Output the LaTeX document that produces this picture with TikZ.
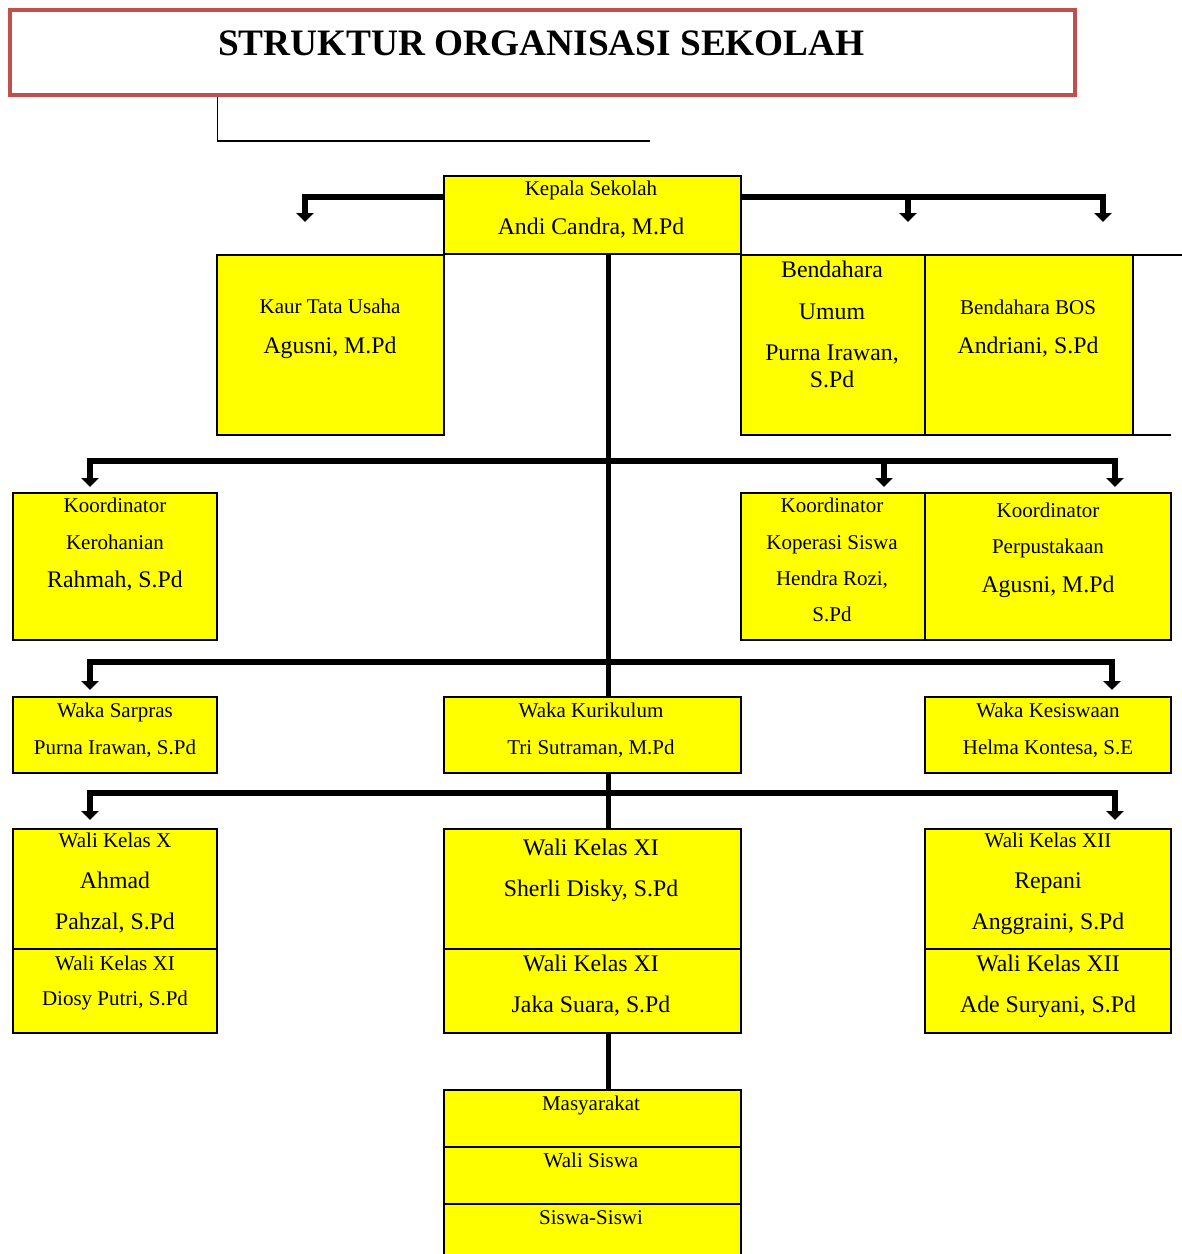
\documentclass[tikz,border=0pt]{standalone}
\usepackage{fontspec}
\setmainfont{Liberation Serif}
\usetikzlibrary{arrows.meta,calc}
\definecolor{titlered}{RGB}{192,80,77}
\definecolor{boxyellow}{RGB}{255,255,0}
\tikzset{
  box/.style={draw=black, line width=2pt, fill=boxyellow, inner sep=0pt, outer sep=0pt},
  sm/.style={font=\fontsize{21}{25}\selectfont, anchor=base, inner sep=0pt},
  lg/.style={font=\fontsize{23.8}{28}\selectfont, anchor=base, inner sep=0pt},
  trunk/.style={line width=5pt},
  bar/.style={line width=6pt, line join=miter, -{Triangle[width=17pt,length=9pt]}},
  divline/.style={line width=1.2pt},
}
\begin{document}
\begin{tikzpicture}[x=1pt,y=-1pt]
\useasboundingbox (0,0) rectangle (1182,1254);

% title
\node[draw=titlered, line width=4pt, fill=white, minimum width=1065pt, minimum height=85pt, inner sep=0pt] (title) at (542.5,52.5) {};
\node[anchor=base, inner sep=0pt, font=\fontsize{37.3}{40}\selectfont\bfseries] (titleT) at (541.5,55.5) {STRUKTUR ORGANISASI SEKOLAH};
\coordinate (tlx) at (217,141);
\coordinate (tle) at (650,141);
\draw[line width=1pt] (title.south -| tlx) -- (tlx);
\draw[line width=2pt] (tlx) -- (tle);

% boxes
\node[box, minimum width=297pt, minimum height=78pt] (kep) at (592.5,215) {};
\node[box, minimum width=227pt, minimum height=180pt] (kaur) at (330.5,345) {};
\node[box, minimum width=184pt, minimum height=180pt] (bum) at (833,345) {};
\node[box, minimum width=208pt, minimum height=180pt] (bos) at (1029,345) {};
\node[box, minimum width=204pt, minimum height=147pt] (kero) at (115,566.5) {};
\node[box, minimum width=184pt, minimum height=147pt] (kop) at (833,566.5) {};
\node[box, minimum width=246pt, minimum height=147pt] (perp) at (1048,566.5) {};
\node[box, minimum width=204pt, minimum height=76pt] (wsar) at (115,735) {};
\node[box, minimum width=297pt, minimum height=76pt] (wkur) at (592.5,735) {};
\node[box, minimum width=246pt, minimum height=76pt] (wkes) at (1048,735) {};
\node[box, minimum width=204pt, minimum height=204pt] (wx) at (115,931) {};
\node[box, minimum width=297pt, minimum height=204pt] (wxi) at (592.5,931) {};
\node[box, minimum width=246pt, minimum height=204pt] (wxii) at (1048,931) {};
\node[box, minimum width=297pt, minimum height=57pt] (mas) at (592.5,1118.5) {};
\node[box, minimum width=297pt, minimum height=57pt] (wsis) at (592.5,1175.5) {};
\node[box, minimum width=297pt, minimum height=60pt] (ssis) at (592.5,1234) {};

% open cell right of Bendahara BOS
\coordinate (extT) at (1182,255);
\coordinate (extB) at (1171,435);
\draw[line width=2pt] (bos.north east) -- (extT);
\draw[line width=2pt] (bos.south east) -- (extB);

% dividers in Wali Kelas boxes
\coordinate (dv) at (0,949);
\draw[divline] (wx.west |- dv) -- (wx.east |- dv);
\draw[divline] (wxi.west |- dv) -- (wxi.east |- dv);
\draw[divline] (wxii.west |- dv) -- (wxii.east |- dv);

% trunk
\coordinate (tx) at (608,0);
\draw[trunk] (kep.south -| tx) -- (wkur.north -| tx);
\draw[trunk] (wkur.south -| tx) -- (wxi.north -| tx);
\draw[trunk] (wxi.south -| tx) -- (mas.north -| tx);

% top branches from Kepala Sekolah
\coordinate (ty) at (0,197);
\draw[bar] (kep.west |- ty) -| ($(kaur.north west)+(88,-33)$);
\draw[bar] (kep.east |- ty) -| ($(bum.north west)+(167,-33)$);
\draw[bar] (kep.east |- ty) -| ($(bos.north west)+(178,-33)$);

% bar 2
\coordinate (j2) at (608,461);
\draw[bar] (j2) -| ($(kero.north west)+(77,-6)$);
\draw[bar] (j2) -| ($(kop.north west)+(143,-6)$);
\draw[bar] (j2) -| ($(perp.north west)+(190,-6)$);

% bar 3
\coordinate (j3) at (608,662);
\draw[bar] (j3) -| ($(wsar.north west)+(77,-7)$);
\draw[bar] (j3) -| ($(wkes.north west)+(187,-7)$);

% bar 4
\coordinate (j4) at (608,793);
\draw[bar] (j4) -| ($(wx.north west)+(77,-9)$);
\draw[bar] (j4) -| ($(wxii.north west)+(190,-9)$);

% texts
\node[sm] (kepT1) at (591,195) {Kepala Sekolah};
\node[lg] (kepT2) at (591,234) {Andi Candra, M.Pd};

\node[sm] (kaurT1) at (330,313) {Kaur Tata Usaha};
\node[lg] (kaurT2) at (330,353) {Agusni, M.Pd};

\node[lg] (bumT1) at (832,277) {Bendahara};
\node[lg] (bumT2) at (832,319) {Umum};
\node[lg] (bumT3) at (832,360) {Purna Irawan,};
\node[lg] (bumT4) at (832,387) {S.Pd};

\node[sm] (bosT1) at (1028,314) {Bendahara BOS};
\node[lg] (bosT2) at (1028,353) {Andriani, S.Pd};

\node[sm] (keroT1) at (115,512) {Koordinator};
\node[sm] (keroT2) at (115,549) {Kerohanian};
\node[lg] (keroT3) at (115,587) {Rahmah, S.Pd};

\node[sm] (kopT1) at (832,512) {Koordinator};
\node[sm] (kopT2) at (832,549) {Koperasi Siswa};
\node[sm] (kopT3) at (832,585) {Hendra Rozi,};
\node[sm] (kopT4) at (832,621) {S.Pd};

\node[sm] (perpT1) at (1048,517) {Koordinator};
\node[sm] (perpT2) at (1048,553) {Perpustakaan};
\node[lg] (perpT3) at (1048,592) {Agusni, M.Pd};

\node[sm] (wsarT1) at (115,717) {Waka Sarpras};
\node[sm] (wsarT2) at (115,754) {Purna Irawan, S.Pd};

\node[sm] (wkurT1) at (591,717) {Waka Kurikulum};
\node[sm] (wkurT2) at (591,754) {Tri Sutraman, M.Pd};

\node[sm] (wkesT1) at (1048,717) {Waka Kesiswaan};
\node[sm] (wkesT2) at (1048,754) {Helma Kontesa, S.E};

\node[sm] (wxT1) at (115,847) {Wali Kelas X};
\node[lg] (wxT2) at (115,888) {Ahmad};
\node[lg] (wxT3) at (115,929) {Pahzal, S.Pd};
\node[sm] (wxT4) at (115,970) {Wali Kelas XI};
\node[sm] (wxT5) at (115,1005) {Diosy Putri, S.Pd};

\node[lg] (wxiT1) at (591,855) {Wali Kelas XI};
\node[lg] (wxiT2) at (591,896) {Sherli Disky, S.Pd};
\node[lg] (wxiT3) at (591,971) {Wali Kelas XI};
\node[lg] (wxiT4) at (591,1012) {Jaka Suara, S.Pd};

\node[sm] (wxiiT1) at (1048,847) {Wali Kelas XII};
\node[lg] (wxiiT2) at (1048,888) {Repani};
\node[lg] (wxiiT3) at (1048,929) {Anggraini, S.Pd};
\node[lg] (wxiiT4) at (1048,971) {Wali Kelas XII};
\node[lg] (wxiiT5) at (1048,1012) {Ade Suryani, S.Pd};

\node[sm] (masT) at (591,1110) {Masyarakat};
\node[sm] (wsisT) at (591,1167) {Wali Siswa};
\node[sm] (ssisT) at (591,1224) {Siswa-Siswi};
\end{tikzpicture}
\end{document}
